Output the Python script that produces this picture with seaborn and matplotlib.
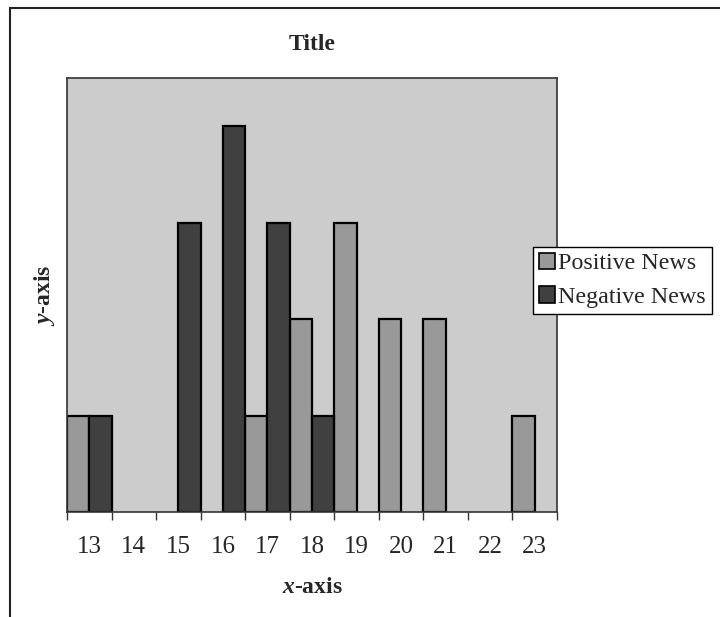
import pandas as pd
import matplotlib
matplotlib.use("Agg")
import matplotlib.pyplot as plt
from matplotlib.patches import Rectangle
import seaborn as sns

# data
ages = ["13", "14", "15", "16", "17", "18", "19", "20", "21", "22", "23"]
positive_news = [1, 0, 0, 0, 1, 2, 3, 2, 2, 0, 1]
negative_news = [1, 0, 3, 4, 3, 1, 0, 0, 0, 0, 0]
series = ["Positive News", "Negative News"]
colors = ["#999999", "#404040"]

df = pd.DataFrame({
    "age": ages * 2,
    "count": positive_news + negative_news,
    "series": [series[0]] * len(ages) + [series[1]] * len(ages),
})
df = df[df["count"] > 0]

sns.set_style("white")
plt.rcParams["font.family"] = ["Liberation Serif", "DejaVu Serif"]
plt.rcParams["mathtext.fontset"] = "custom"
plt.rcParams["mathtext.bfit"] = "Liberation Serif:italic:bold"

fig = plt.figure(figsize=(7.2, 6.17), dpi=100)
ax = fig.add_axes([67 / 720, 1 - 512 / 617, (557 - 67) / 720, (512 - 78) / 617])
ax.set_facecolor("#cccccc")

sns.barplot(data=df, x="age", y="count", hue="series", order=ages,
            hue_order=series, palette=colors, width=1.0, dodge=True,
            edgecolor="black", linewidth=1.6, saturation=1, ax=ax,
            legend=True)

ax.set_xlim(-0.5, len(ages) - 0.5)
ax.set_ylim(0, 4.5)
ax.set_yticks([])

# ticks between categories, labels centred on categories
ax.set_xticks([i - 0.5 for i in range(len(ages) + 1)])
ax.set_xticklabels([])
ax.set_xticks(range(len(ages)), minor=True)
ax.set_xticklabels(ages, minor=True, fontsize=18)
ax.tick_params(axis="x", which="major", direction="out", length=6,
               width=1, color="#333333", bottom=True)
ax.tick_params(axis="x", which="minor", length=0, pad=17)

for s in ax.spines.values():
    s.set_color("#333333")
    s.set_linewidth(1.2)

ax.set_title("Title", fontsize=17, fontweight="bold", pad=20)
ax.set_xlabel(r"$\mathbfit{x}$-axis", fontsize=17, fontweight="bold", labelpad=14)
ax.set_ylabel(r"$\mathbfit{y}$-axis", fontsize=17, fontweight="bold", labelpad=7)

ax.get_legend().remove()
handles = [Rectangle((0, 0), 1, 1, facecolor=c, edgecolor="black", linewidth=1.2)
           for c in colors]
leg = fig.legend(handles, series, loc="upper left",
                 bbox_to_anchor=(533 / 720, 1 - 247 / 617), fontsize=17.3,
                 frameon=True, fancybox=False, edgecolor="black",
                 framealpha=1, borderpad=0.25, handlelength=0.65,
                 handleheight=0.65, handletextpad=0.15, labelspacing=0.5,
                 borderaxespad=0)
leg.get_frame().set_linewidth(1.0)

# outer chart border (top and left visible)
fig.patches.append(Rectangle((10 / 720, -0.1), 1.0, 1 - 8 / 617 + 0.1,
                             transform=fig.transFigure, fill=False,
                             edgecolor="#222222", linewidth=1.5))

fig.savefig("out.png", dpi=100)
